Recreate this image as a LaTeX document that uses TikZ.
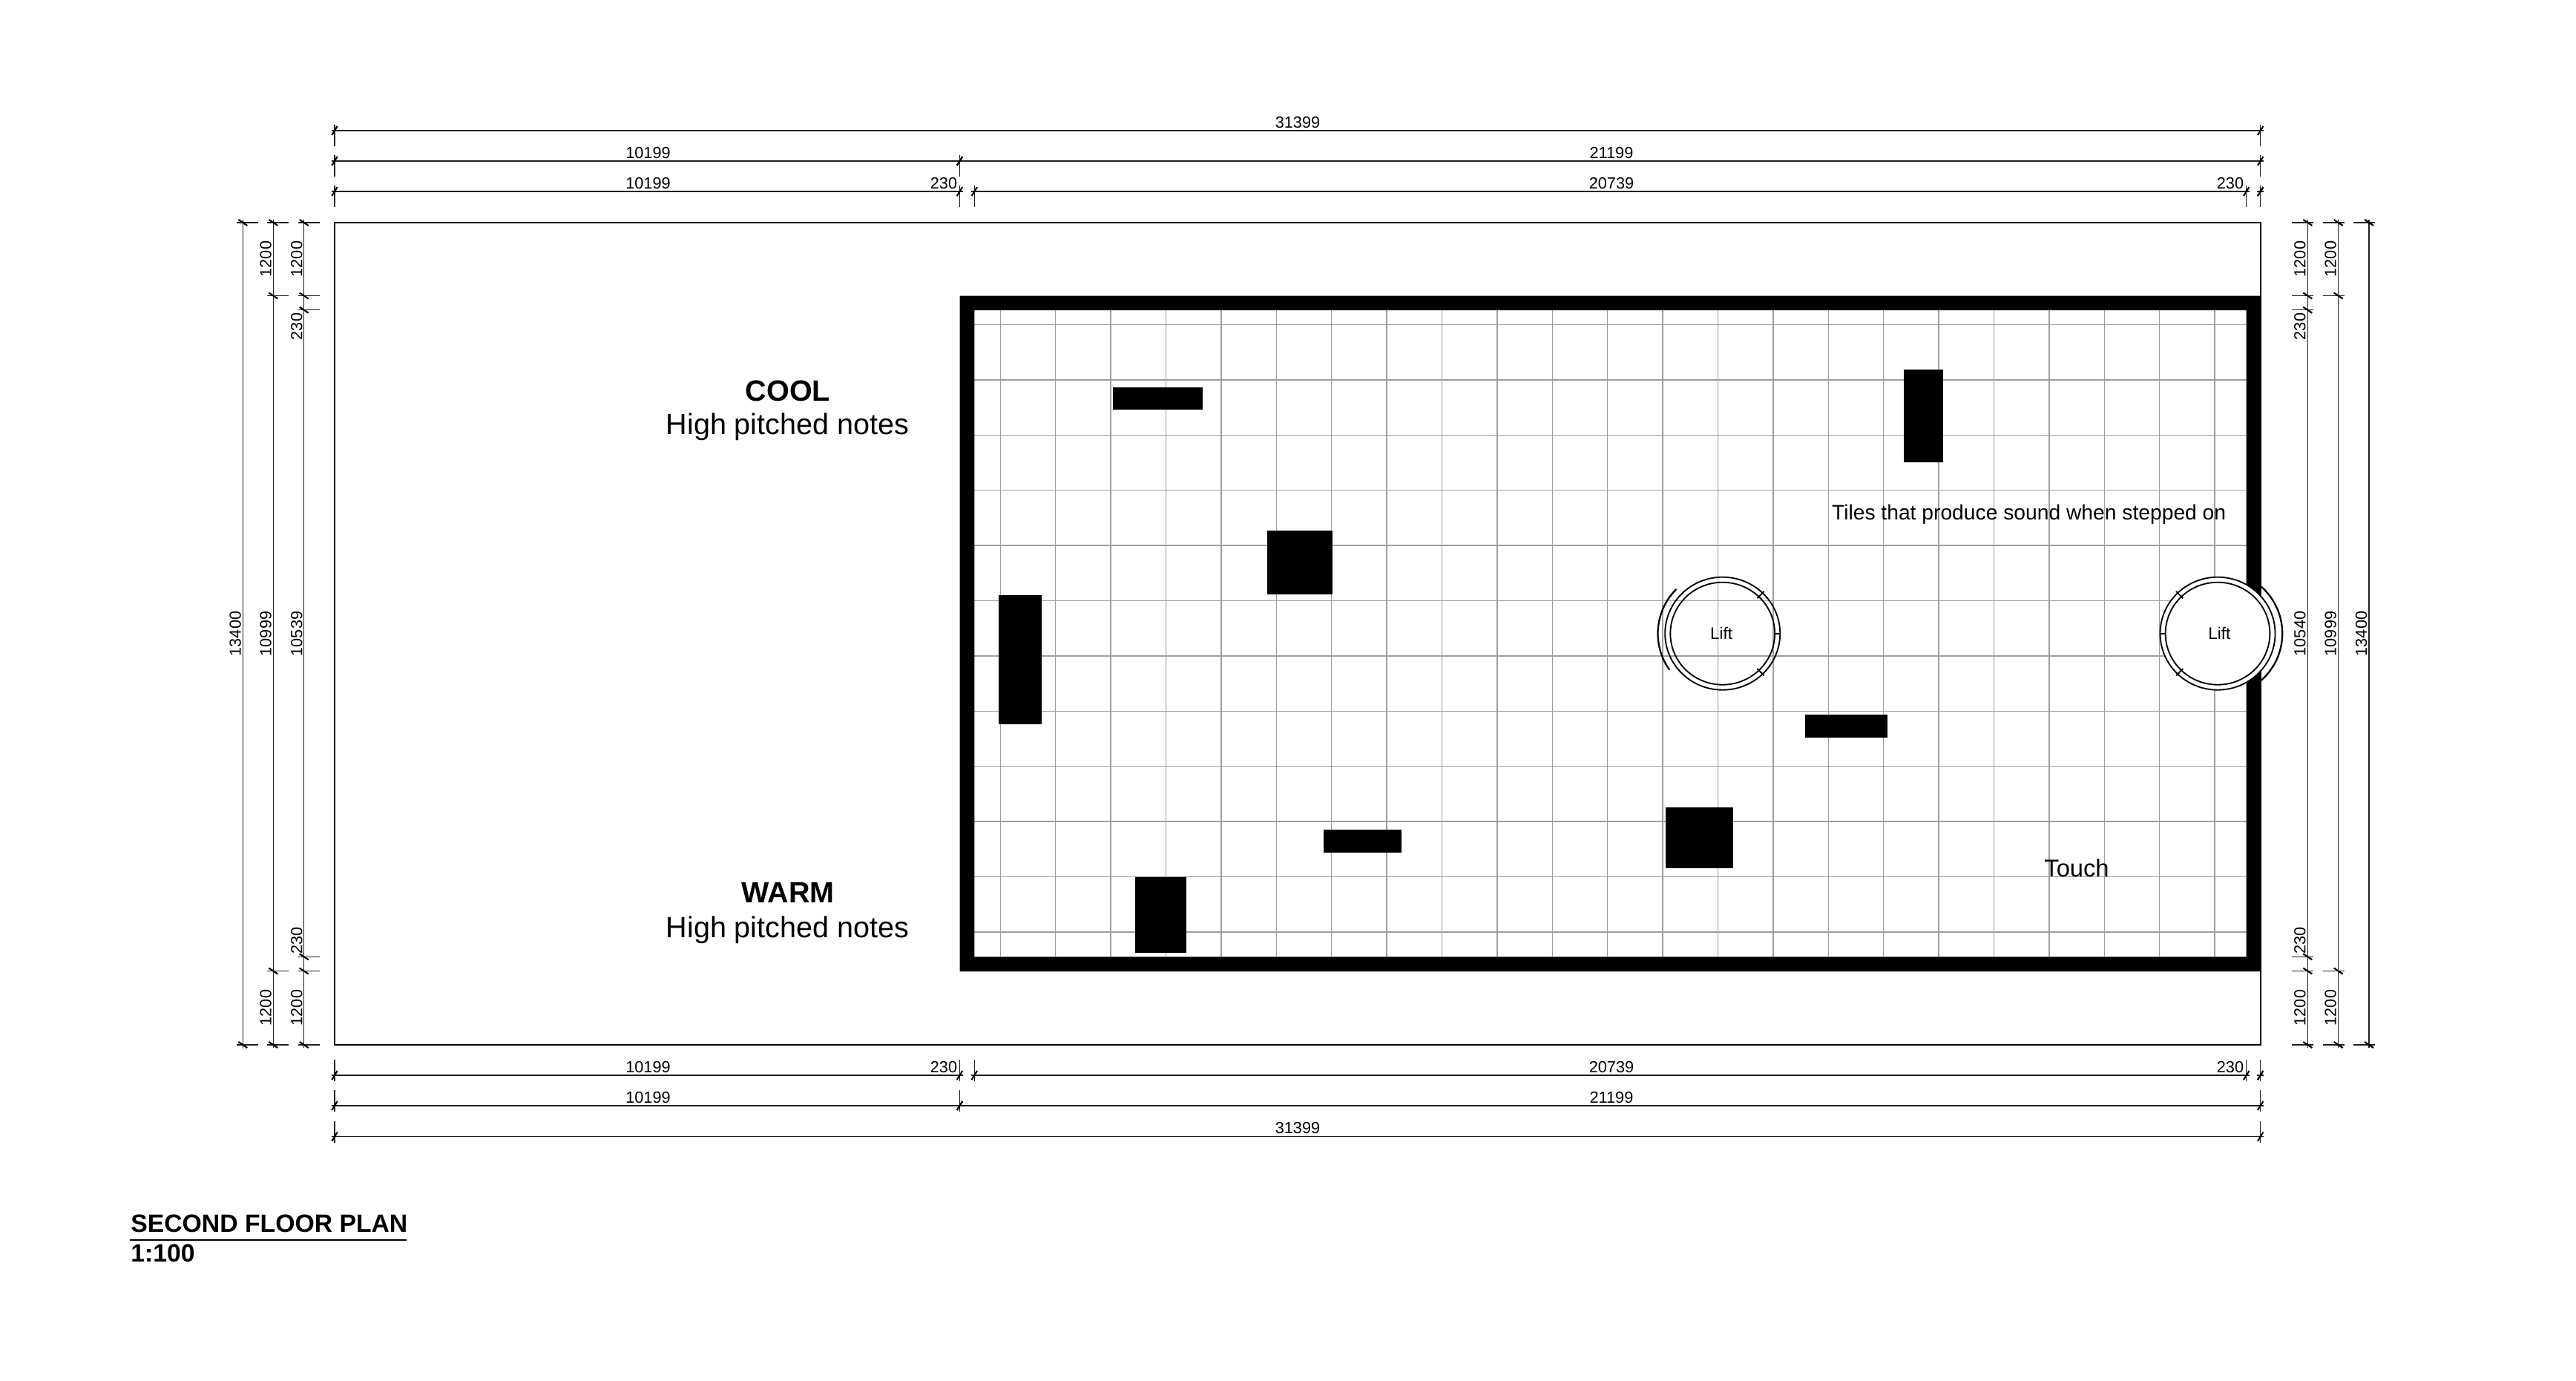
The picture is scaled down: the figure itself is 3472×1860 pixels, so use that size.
\documentclass[tikz,border=0pt]{standalone}
\usepackage{fontspec}
\setmainfont{Liberation Sans}

\tikzset{
	dimline/.style={line width=0.7pt, black!88},
	dimtick/.style={line width=1.2pt, black},
	tileline/.style={line width=0.75pt, black!38},
	liftline/.style={line width=1.05pt, black},
	dimlabel/.style={font=\fontsize{12.35}{14}\selectfont, inner sep=0pt, anchor=base},
	roomlabel/.style={font=\fontsize{22.5}{26}\selectfont, inner sep=0pt, anchor=base},
	titlelabel/.style={font=\fontsize{19.2}{22}\selectfont\bfseries, inner sep=0pt, anchor=base west},
}

% y, side (1 above the plan, -1 below), segments
\newcommand{\hdimrow}[3]{
	\foreach \xa/\xb in {#3}{
		\draw[dimline] (\xa-4.5,#1) -- (\xb+4.5,#1);
		\foreach \x in {\xa,\xb}{
			\draw[dimline] (\x,#1-8*#2) -- (\x,#1+21*#2);
			\draw[dimtick] (\x-3.7,#1+6) -- (\x+3.7,#1-6);
		}
	}
}
% x, side (1 left of the plan, -1 right), tick positions
\newcommand{\vdimcol}[3]{
	\draw[dimline] (#1,296) -- (#1,1412);
	\foreach \y in {#3}{
		\draw[dimline] (#1-8*#2,\y) -- (#1+21*#2,\y);
		\draw[dimtick] (#1-6,\y-4) -- (#1+6,\y+4);
	}
}
% x, y, mirror, door start, door end, fill
\newcommand{\liftsymbol}[6]{
	\begin{scope}[shift={(#1,#2)}, xscale=1.02*#3]
		\draw[liftline, fill=#6] (0,0) circle (76mm);
		\draw[liftline] (0,0) circle (69mm);
		\draw[liftline] (46:66mm) -- (46:79mm);
		\draw[liftline] (-46:66mm) -- (-46:79mm);
		\draw[liftline] (0:69mm) -- (0:76mm);
		\draw[line width=1.3pt] (#4:85.5mm) arc (#4:#5:85.5mm);
	\end{scope}
}

\begin{document}
\begin{tikzpicture}[x=1mm, y=1mm, xscale=0.2, yscale=-0.2]
	\useasboundingbox (0,0) rectangle (3472,1860);

	% tiles
	\foreach \k in {0,...,22}
		\draw[tileline] ({1348.3+74.4*\k},418) -- ({1348.3+74.4*\k},1289);
	\foreach \k in {0,...,11}
		\draw[tileline] (1313,{437.5+74.4*\k}) -- (3028,{437.5+74.4*\k});

	% plan outline and walls
	\draw[line width=0.95pt] (451,300) rectangle (3046.7,1408);
	\fill[even odd rule] (1293.5,398.5) rectangle (3047.2,1309) (1313.3,418) rectangle (3027.7,1289.3);

	% solid blocks
	\foreach \xa/\ya/\xb/\yb in {1500/522.3/1620.7/551.5, 1346/801.7/1404.3/976, 1708.3/715/1796/801,
		2566.3/498/2619/622.7, 2432.7/963/2544/994, 1784/1118.3/1889/1148.7,
		2245/1088.3/2336.3/1170, 1529.8/1182/1598.7/1284.3}
		\fill (\xa,\ya) rectangle (\xb,\yb);

	% lifts
	\liftsymbol{2321.7}{853.7}{1}{145}{224.4}{none}
	\liftsymbol{2989}{853.7}{-1}{132.5}{227.5}{white}
	\node[dimlabel, font=\fontsize{12.8}{14}\selectfont] (liftA) at (2320,861.7) {Lift};
	\node[dimlabel, font=\fontsize{12.8}{14}\selectfont] (liftB) at (2991.3,861.7) {Lift};

	% dimension rows
	\hdimrow{176}{1}{451/3046.7}
	\hdimrow{217}{1}{451/1293.5, 1293.5/3046.7}
	\hdimrow{258}{1}{451/1293.5, 1313.3/3027.7, 3046.7/3046.7}
	\hdimrow{1449}{-1}{451/1293.5, 1313.3/3027.7, 3046.7/3046.7}
	\hdimrow{1490}{-1}{451/1293.5, 1293.5/3046.7}
	\hdimrow{1531.7}{-1}{451/3046.7}

	\vdimcol{327.3}{1}{300,1408}
	\vdimcol{368.3}{1}{300,398.5,1308.5,1408}
	\vdimcol{409.7}{1}{300,398.5,417.7,1289.3,1308.5,1408}
	\vdimcol{3110.3}{-1}{300,398.5,417.7,1289.3,1308.5,1408}
	\vdimcol{3151.7}{-1}{300,398.5,1308.5,1408}
	\vdimcol{3193}{-1}{300,1408}

	\foreach \x/\y/\t [count=\n] in {1749/172/31399, 873.5/213/10199, 2172/213/21199, 873.5/254/10199,
		1272/254/230, 2172/254/20739, 3006/254/230, 873.5/1445/10199, 1272/1445/230, 2172/1445/20739,
		3006/1445/230, 873.5/1486/10199, 2172/1486/21199, 1749/1527.7/31399}
		\node[dimlabel] (hlabel\n) at (\x,\y) {\t};
	\foreach \x/\y/\t [count=\n] in {324.5/854/13400, 365.7/349/1200, 365.7/854/10999, 365.7/1358/1200,
		407.3/349/1200, 407.3/440/230, 407.3/854/10539, 407.3/1267.5/230, 407.3/1358/1200,
		3107.3/349/1200, 3107.3/440/230, 3107.3/854/10540, 3107.3/1267.5/230, 3107.3/1358/1200,
		3148.7/349/1200, 3148.7/854/10999, 3148.7/1358/1200, 3190/854/13400}
		\node[dimlabel, rotate=90] (vlabel\n) at (\x,\y) {\t};

	% room texts
	\node[roomlabel, font=\fontsize{22.5}{26}\selectfont\bfseries] (cool) at (1062,540) {COOL};
	\node[roomlabel] (coolnote) at (1061.5,585) {High pitched notes};
	\node[roomlabel, font=\fontsize{22.5}{26}\selectfont\bfseries] (warm) at (1062,1216) {WARM};
	\node[roomlabel] (warmnote) at (1061.5,1263) {High pitched notes};
	\node[dimlabel, font=\fontsize{16.07}{18}\selectfont, anchor=base west] (tiles) at (2468.7,700) {Tiles that produce sound when stepped on};
	\node[dimlabel, font=\fontsize{18.6}{21}\selectfont] (touch) at (2799,1181) {Touch};

	% title
	\node[titlelabel] (title) at (176,1660.5) {SECOND FLOOR PLAN};
	\node[titlelabel] (scale) at (176,1700) {1:100};
	\draw[line width=0.9pt] (175,1670.7) -- (548.3,1670.7);
\end{tikzpicture}
\end{document}
